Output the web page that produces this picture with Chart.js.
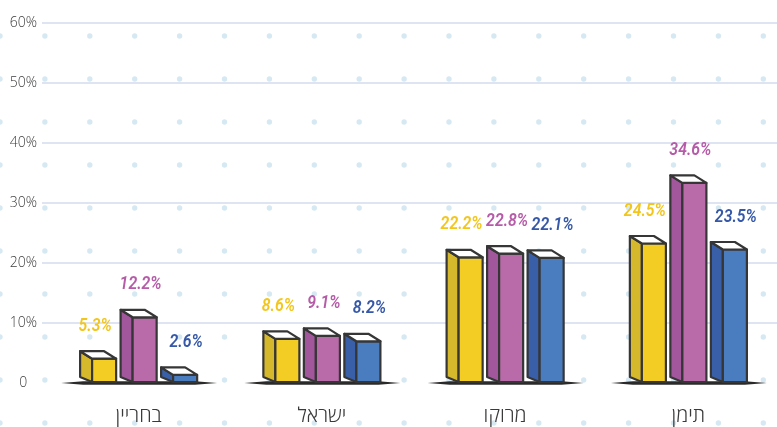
<!DOCTYPE html>
<html lang="he">
<head>
<meta charset="utf-8">
<script src="https://cdn.jsdelivr.net/npm/chart.js@4.4.1/dist/chart.umd.min.js"></script>
<style>
html, body { margin: 0; padding: 0; background: #fff; overflow: hidden; }
#wrap { width: 780px; height: 427px; position: relative; }
</style>
</head>
<body>
<div id="wrap"><canvas id="chart"></canvas></div>
<script>
'use strict';
// countries, left to right
const categories = ['בחריין', 'ישראל', 'מרוקו', 'תימן'];
// three series per country (percent)
const yellowVals = [5.3, 8.6, 22.2, 24.5];
const purpleVals = [12.2, 9.1, 22.8, 34.6];
const blueVals = [2.6, 8.2, 22.1, 23.5];
const yTicks = [0, 10, 20, 30, 40, 50, 60];

// face colours: [front, side, label]
const palette = [
	['#f4cd24', '#d6b82c', '#f2c61d'],
	['#b86ba8', '#a2579c', '#b65ba8'],
	['#4a7cc0', '#3a5fa9', '#3558a8']
];
// value labels sit a little apart from each other
const labelShift = [-3, 2, 7];
const ink = '#363636';

// light blue dot pattern on the paper
const dotsBg = {
	id: 'dotsBg',
	beforeDraw(chart) {
		const ctx = chart.ctx;
		ctx.save();
		ctx.fillStyle = '#d6e9f3';
		for (let y = 36; y < chart.height + 4; y += 43) {
			for (let x = 0; x < chart.width + 4; x += 44.9) {
				ctx.beginPath();
				ctx.arc(x, y, 2.7, 0, Math.PI * 2);
				ctx.fill();
			}
		}
		ctx.restore();
	}
};

// ground shadow under each group, 3d boxes and value labels
const sketchBars = {
	id: 'sketchBars',
	beforeDatasetsDraw(chart) {
		const ctx = chart.ctx,
			first = chart.getDatasetMeta(0).data,
			last = chart.getDatasetMeta(chart.data.datasets.length - 1).data;
		ctx.save();
		ctx.fillStyle = '#2a2a2a';
		for (let j = 0; j < first.length; j++) {
			const a = first[j].getProps(['x', 'width', 'base'], true),
				b = last[j].getProps(['x', 'width'], true);
			const l = a.x - a.width / 2 - 19,
				r = b.x + b.width / 2 + 20,
				gy = a.base + 1;
			ctx.beginPath();
			ctx.moveTo(l, gy);
			ctx.lineTo(l + 22, gy - 1.8);
			ctx.lineTo(r - 22, gy - 1.8);
			ctx.lineTo(r, gy);
			ctx.lineTo(r - 22, gy + 1.8);
			ctx.lineTo(l + 22, gy + 1.8);
			ctx.closePath();
			ctx.fill();
		}
		ctx.restore();
	},
	afterDatasetsDraw(chart) {
		const ctx = chart.ctx;
		ctx.save();
		ctx.lineJoin = 'round';
		ctx.lineCap = 'round';
		chart.data.datasets.forEach((ds, i) => {
			const meta = chart.getDatasetMeta(i),
				col = palette[i];
			meta.data.forEach((bar, j) => {
				const p = bar.getProps(['x', 'y', 'base', 'width'], true),
					x0 = p.x - p.width / 2,
					x1 = p.x + p.width / 2,
					sw = p.width / 3,
					d = 7.5,
					top = p.y,
					base = p.base;
				const side = [[x0, top], [x0 + sw, top + d], [x0 + sw, base], [x0, base - 5]],
					front = [[x0 + sw, top + d], [x1, top + d], [x1, base], [x0 + sw, base]],
					lid = [[x0, top], [x1 - sw, top], [x1, top + d], [x0 + sw, top + d]];
				const face = (pts, fill) => {
					ctx.beginPath();
					ctx.moveTo(pts[0][0], pts[0][1]);
					for (let k = 1; k < pts.length; k++) ctx.lineTo(pts[k][0], pts[k][1]);
					ctx.closePath();
					ctx.fillStyle = fill;
					ctx.fill();
					ctx.strokeStyle = ink;
					ctx.lineWidth = 2.2;
					ctx.stroke();
				};
				face(side, col[1]);
				face(front, col[0]);
				face(lid, '#ffffff');

				// marker-style value label, squeezed a little
				ctx.save();
				ctx.translate(p.x + labelShift[i], top - 25);
				ctx.scale(0.88, 1);
				ctx.fillStyle = col[2];
				ctx.font = 'italic 600 18px Roboto, sans-serif';
				ctx.textAlign = 'center';
				ctx.textBaseline = 'middle';
				ctx.fillText(ds.data[j].toFixed(1) + '%', 0, 0);
				ctx.restore();
			});
		});
		ctx.restore();
	}
};

const mkSet = (vals) => ({
	data: vals,
	backgroundColor: 'rgba(0,0,0,0)',
	borderWidth: 0,
	categoryPercentage: 0.663,
	barPercentage: 0.89
});

new Chart(document.getElementById('chart'), {
	type: 'bar',
	data: {
		labels: categories,
		datasets: [mkSet(yellowVals), mkSet(purpleVals), mkSet(blueVals)]
	},
	options: {
		responsive: true,
		maintainAspectRatio: false,
		animation: false,
		layout: { padding: { top: 23, right: 0, bottom: 0, left: 0 } },
		plugins: { legend: { display: false }, tooltip: { enabled: false } },
		scales: {
			x: {
				grid: { display: false },
				border: { display: false },
				ticks: {
					color: '#3a3a3a',
					padding: 13,
					font: { family: '"Open Sans", "Liberation Sans", "DejaVu Sans", sans-serif', size: 20, weight: 300 }
				},
				afterFit: (s) => { s.height = 44; }
			},
			y: {
				min: 0,
				max: 60,
				afterBuildTicks: (s) => { s.ticks = yTicks.map(v => ({ value: v })); },
				grid: {
					color: (c) => c.tick && c.tick.value === 0 ? 'rgba(0,0,0,0)' : '#dfe4f3',
					lineWidth: 2,
					tickLength: 5
				},
				border: { display: false },
				ticks: {
					color: '#3c3c3c',
					padding: 5,
					crossAlign: 'center',
					font: { family: '"Open Sans", sans-serif', size: 14, weight: 300 },
					callback: (v) => v === 0 ? '0' : v + '%'
				},
				afterFit: (s) => { s.width = 47; }
			}
		}
	},
	plugins: [dotsBg, sketchBars]
});
</script>
</body>
</html>
